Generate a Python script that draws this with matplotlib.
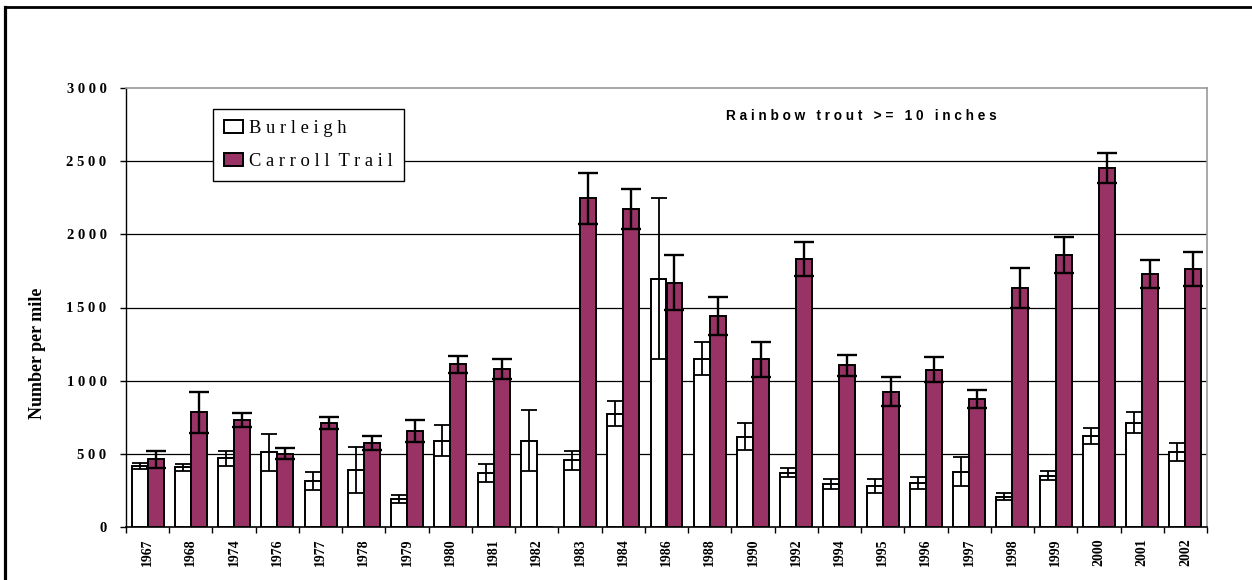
import numpy as np
import matplotlib
matplotlib.use("Agg")
import matplotlib.pyplot as plt
from matplotlib.lines import Line2D

# Survey years
years = ['1967', '1968', '1974', '1976', '1977', '1978', '1979', '1980', '1981',
         '1982', '1983', '1984', '1986', '1988', '1990', '1992', '1994', '1995',
         '1996', '1997', '1998', '1999', '2000', '2001', '2002']

# Rainbow trout >= 10 inches, number per mile (estimate and +/- interval)
burleigh = [415, 408, 470, 510, 314, 388, 194, 590, 369, 590, 456, 775, 1698,
            1151, 618, 371, 294, 278, 301, 376, 207, 351, 622, 713, 515]
burleigh_err = [22, 25, 52, 128, 61, 156, 27, 108, 63, 210, 66, 88, 548,
                115, 95, 30, 32, 47, 39, 99, 25, 30, 52, 73, 62]

carroll = [463, 784, 729, 501, 711, 574, 654, 1112, 1078, np.nan, 2247, 2172,
           1668, 1443, 1146, 1832, 1105, 925, 1075, 875, 1636, 1857, 2452,
           1728, 1762]
carroll_err = [58, 140, 49, 36, 38, 50, 76, 59, 70, np.nan, 173, 137, 188,
               130, 118, 114, 73, 100, 84, 59, 136, 122, 101, 97, 117]

y_ticks = [0, 500, 1000, 1500, 2000, 2500, 3000]

W, H, DPI = 1252, 580, 100
fig = plt.figure(figsize=(W / DPI, H / DPI), dpi=DPI)
ax = fig.add_axes([126 / W, 1 - 527 / H, (1207 - 126) / W, (527 - 88) / H])

serif = 'Liberation Serif'
sans = 'Liberation Sans'
plum = '#993366'

x = np.arange(len(years))
bw = 0.37

ax.bar(x - bw / 2, burleigh, bw, color='white', edgecolor='black',
       linewidth=1.4, zorder=3, label='B u r l e i g h')
ax.bar(x + bw / 2, np.nan_to_num(carroll), bw, color=plum, edgecolor='black',
       linewidth=1.4, zorder=3, label='C a r r o l l  T r a i l')
ax.errorbar(x - bw / 2, burleigh, yerr=burleigh_err, fmt='none', ecolor='black',
            elinewidth=1.3, capsize=6, capthick=1.3, zorder=4)
ax.errorbar(x + bw / 2, carroll, yerr=carroll_err, fmt='none', ecolor='black',
            elinewidth=1.7, capsize=7, capthick=1.7, zorder=4)

ax.set_xlim(-0.5, len(years) - 0.5)
ax.set_ylim(0, 3000)

# Horizontal gridlines
for v in y_ticks[1:-1]:
    ax.axhline(v, color='black', linewidth=0.9, zorder=1)

ax.spines['top'].set_color('#999999')
ax.spines['right'].set_color('#999999')
ax.spines['top'].set_linewidth(1.2)
ax.spines['right'].set_linewidth(1.2)
ax.spines['left'].set_linewidth(1.0)
ax.spines['bottom'].set_linewidth(1.2)

# Y axis
ax.set_yticks(y_ticks)
ax.set_yticklabels([' '.join(str(v)) for v in y_ticks],
                   fontfamily=serif, fontweight='bold', fontsize=10.5)
ax.tick_params(axis='y', direction='out', length=4, width=1, pad=10)

# X axis: ticks at group boundaries, labels at group centres
ax.set_xticks(np.arange(-0.5, len(years), 1.0))
ax.set_xticklabels([])
ax.set_xticks(x, minor=True)
ax.set_xticklabels(years, minor=True, rotation=90, fontfamily=serif,
                   fontweight='bold', fontsize=10)
ax.tick_params(axis='x', which='major', direction='out', length=4, width=1)
ax.tick_params(axis='x', which='minor', length=0, pad=8)

leg = ax.legend(loc='upper left', bbox_to_anchor=(0.0805, 0.952),
                borderaxespad=0, prop={'family': serif, 'size': 13.3},
                handlelength=1.0, handleheight=0.7, handletextpad=0.36,
                labelspacing=0.85, borderpad=0.6, fancybox=False,
                framealpha=1, edgecolor='black')
leg.get_frame().set_linewidth(1.0)

fig.text(861 / W, 1 - 115.7 / H,
         'R a i n b o w   t r o u t   > =   1 0   i n c h e s',
         ha='center', va='center', fontfamily=sans, fontweight='bold',
         fontsize=9.8)

fig.text(38 / W, 1 - 353 / H, 'Number per mile', rotation=90, ha='center',
         va='center', fontfamily=serif, fontweight='bold', fontsize=13)

# Outer frame: left and top edges only
fx = 5 / W
fy = 1 - 7 / H
fig.add_artist(Line2D([fx, fx], [0, fy], transform=fig.transFigure,
                      color='black', linewidth=2.3, solid_capstyle='projecting'))
fig.add_artist(Line2D([fx, 1], [fy, fy], transform=fig.transFigure,
                      color='black', linewidth=2.0, solid_capstyle='projecting'))

fig.savefig('out.png', dpi=DPI)
